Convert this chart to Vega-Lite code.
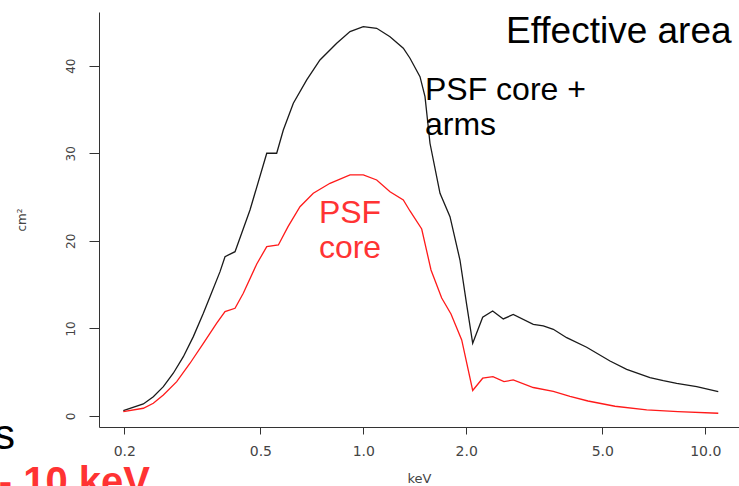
{
  "$schema": "https://vega.github.io/schema/vega-lite/v6.json",
  "width": 640,
  "height": 415,
  "autosize": {"type": "none"},
  "padding": {"left": 99, "top": 12, "right": 0, "bottom": 59},
  "background": "white",
  "config": {"view": {"stroke": null}, "font": "Liberation Sans"},
  "datasets": {
    "curves": [
      {"series": "PSF core + arms", "keV": 0.1987, "area": 0.61},
      {"series": "PSF core + arms", "keV": 0.2274, "area": 1.37},
      {"series": "PSF core + arms", "keV": 0.2432, "area": 2.2},
      {"series": "PSF core + arms", "keV": 0.2602, "area": 3.35},
      {"series": "PSF core + arms", "keV": 0.2782, "area": 4.88},
      {"series": "PSF core + arms", "keV": 0.2977, "area": 6.77},
      {"series": "PSF core + arms", "keV": 0.3184, "area": 9.06},
      {"series": "PSF core + arms", "keV": 0.3406, "area": 11.73},
      {"series": "PSF core + arms", "keV": 0.3562, "area": 13.62},
      {"series": "PSF core + arms", "keV": 0.3811, "area": 16.48},
      {"series": "PSF core + arms", "keV": 0.3941, "area": 18.19},
      {"series": "PSF core + arms", "keV": 0.4216, "area": 18.76},
      {"series": "PSF core + arms", "keV": 0.4663, "area": 23.52},
      {"series": "PSF core + arms", "keV": 0.522, "area": 30.0},
      {"series": "PSF core + arms", "keV": 0.5581, "area": 30.0},
      {"series": "PSF core + arms", "keV": 0.5836, "area": 32.66},
      {"series": "PSF core + arms", "keV": 0.6243, "area": 35.71},
      {"series": "PSF core + arms", "keV": 0.6832, "area": 38.37},
      {"series": "PSF core + arms", "keV": 0.7469, "area": 40.65},
      {"series": "PSF core + arms", "keV": 0.836, "area": 42.56},
      {"series": "PSF core + arms", "keV": 0.9144, "area": 43.89},
      {"series": "PSF core + arms", "keV": 1.0, "area": 44.46},
      {"series": "PSF core + arms", "keV": 1.0944, "area": 44.27},
      {"series": "PSF core + arms", "keV": 1.197, "area": 43.31},
      {"series": "PSF core + arms", "keV": 1.3092, "area": 41.99},
      {"series": "PSF core + arms", "keV": 1.3694, "area": 40.85},
      {"series": "PSF core + arms", "keV": 1.4648, "area": 38.75},
      {"series": "PSF core + arms", "keV": 1.5151, "area": 36.46},
      {"series": "PSF core + arms", "keV": 1.5668, "area": 31.14},
      {"series": "PSF core + arms", "keV": 1.6762, "area": 25.43},
      {"series": "PSF core + arms", "keV": 1.7927, "area": 22.76},
      {"series": "PSF core + arms", "keV": 1.9173, "area": 17.81},
      {"series": "PSF core + arms", "keV": 2.0063, "area": 12.68},
      {"series": "PSF core + arms", "keV": 2.0889, "area": 8.3},
      {"series": "PSF core + arms", "keV": 2.2342, "area": 11.27},
      {"series": "PSF core + arms", "keV": 2.3893, "area": 11.99},
      {"series": "PSF core + arms", "keV": 2.5665, "area": 11.08},
      {"series": "PSF core + arms", "keV": 2.7446, "area": 11.59},
      {"series": "PSF core + arms", "keV": 3.1406, "area": 10.45},
      {"series": "PSF core + arms", "keV": 3.3599, "area": 10.28},
      {"series": "PSF core + arms", "keV": 3.5945, "area": 9.9},
      {"series": "PSF core + arms", "keV": 3.9331, "area": 8.94},
      {"series": "PSF core + arms", "keV": 4.4997, "area": 7.85},
      {"series": "PSF core + arms", "keV": 5.2651, "area": 6.28},
      {"series": "PSF core + arms", "keV": 5.8911, "area": 5.33},
      {"series": "PSF core + arms", "keV": 6.8912, "area": 4.37},
      {"series": "PSF core + arms", "keV": 7.5388, "area": 4.03},
      {"series": "PSF core + arms", "keV": 8.2491, "area": 3.73},
      {"series": "PSF core + arms", "keV": 9.4387, "area": 3.35},
      {"series": "PSF core + arms", "keV": 10.915, "area": 2.77},
      {"series": "PSF core", "keV": 0.1987, "area": 0.49},
      {"series": "PSF core", "keV": 0.2274, "area": 0.88},
      {"series": "PSF core", "keV": 0.2432, "area": 1.45},
      {"series": "PSF core", "keV": 0.2602, "area": 2.4},
      {"series": "PSF core", "keV": 0.2847, "area": 3.92},
      {"series": "PSF core", "keV": 0.3114, "area": 6.02},
      {"series": "PSF core", "keV": 0.3406, "area": 8.3},
      {"series": "PSF core", "keV": 0.3727, "area": 10.59},
      {"series": "PSF core", "keV": 0.3941, "area": 11.91},
      {"series": "PSF core", "keV": 0.4216, "area": 12.3},
      {"series": "PSF core", "keV": 0.4457, "area": 14.01},
      {"series": "PSF core", "keV": 0.488, "area": 17.36},
      {"series": "PSF core", "keV": 0.522, "area": 19.33},
      {"series": "PSF core", "keV": 0.5645, "area": 19.53},
      {"series": "PSF core", "keV": 0.6024, "area": 21.62},
      {"series": "PSF core", "keV": 0.6529, "area": 23.9},
      {"series": "PSF core", "keV": 0.7141, "area": 25.43},
      {"series": "PSF core", "keV": 0.7991, "area": 26.57},
      {"series": "PSF core", "keV": 0.9144, "area": 27.52},
      {"series": "PSF core", "keV": 1.0, "area": 27.52},
      {"series": "PSF core", "keV": 1.0944, "area": 26.95},
      {"series": "PSF core", "keV": 1.197, "area": 25.61},
      {"series": "PSF core", "keV": 1.3092, "area": 24.67},
      {"series": "PSF core", "keV": 1.3694, "area": 23.41},
      {"series": "PSF core", "keV": 1.4818, "area": 21.35},
      {"series": "PSF core", "keV": 1.5776, "area": 16.67},
      {"series": "PSF core", "keV": 1.6952, "area": 13.47},
      {"series": "PSF core", "keV": 1.8048, "area": 11.65},
      {"series": "PSF core", "keV": 1.9398, "area": 8.68},
      {"series": "PSF core", "keV": 2.0889, "area": 2.91},
      {"series": "PSF core", "keV": 2.2342, "area": 4.31},
      {"series": "PSF core", "keV": 2.3939, "area": 4.49},
      {"series": "PSF core", "keV": 2.5786, "area": 3.92},
      {"series": "PSF core", "keV": 2.7446, "area": 4.11},
      {"series": "PSF core", "keV": 3.1406, "area": 3.25},
      {"series": "PSF core", "keV": 3.5945, "area": 2.8},
      {"series": "PSF core", "keV": 4.0217, "area": 2.25},
      {"series": "PSF core", "keV": 4.5394, "area": 1.71},
      {"series": "PSF core", "keV": 5.4451, "area": 1.11},
      {"series": "PSF core", "keV": 6.7405, "area": 0.69},
      {"series": "PSF core", "keV": 8.3213, "area": 0.49},
      {"series": "PSF core", "keV": 10.915, "area": 0.31}
    ]
  },
  "layer": [
    {
      "data": {"name": "curves"},
      "mark": {"type": "line", "strokeWidth": 1.3, "clip": true},
      "encoding": {
        "x": {
          "field": "keV",
          "type": "quantitative",
          "scale": {"type": "log", "domain": [0.1687, 12.55], "nice": false},
          "axis": {
            "title": "keV",
            "values": [0.2, 0.5, 1, 2, 5, 10],
            "format": ".1f",
            "grid": false,
            "tickSize": 7,
            "tickColor": "#333",
            "domainColor": "#333",
            "labelFont": "DejaVu Sans",
            "labelFontSize": 14,
            "labelColor": "#444",
            "labelPadding": 10,
            "titleFont": "DejaVu Sans",
            "titleFontSize": 13,
            "titleFontWeight": "normal",
            "titleColor": "#444",
            "titlePadding": 14
          }
        },
        "y": {
          "field": "area",
          "type": "quantitative",
          "scale": {"domain": [-1.26, 46.13], "nice": false, "zero": false},
          "axis": {
            "title": "cm²",
            "values": [0, 10, 20, 30, 40],
            "grid": false,
            "tickSize": 10,
            "tickColor": "#333",
            "domainColor": "#333",
            "labelAngle": -90,
            "labelAlign": "center",
            "labelBaseline": "bottom",
            "labelFont": "DejaVu Sans",
            "labelFontSize": 12,
            "labelColor": "#444",
            "labelPadding": 12,
            "titleFont": "DejaVu Sans",
            "titleFontSize": 12,
            "titleFontWeight": "normal",
            "titleColor": "#444",
            "titlePadding": 36
          }
        },
        "color": {
          "field": "series",
          "type": "nominal",
          "scale": {"domain": ["PSF core + arms", "PSF core"], "range": ["#1a1a1a", "#ff1a1a"]},
          "legend": null
        }
      }
    },
    {
      "mark": {"type": "rule", "color": "#333", "strokeWidth": 1},
      "encoding": {"y": {"datum": 46.13}}
    },
    {
      "data": {"values": [{"keV": 2.614, "area": 42.6, "label": "Effective area"}]},
      "mark": {"type": "text", "align": "left", "baseline": "alphabetic", "fontSize": 37, "font": "Liberation Sans", "color": "#000"},
      "encoding": {
        "x": {"field": "keV", "type": "quantitative"},
        "y": {"field": "area", "type": "quantitative"},
        "text": {"field": "label"}
      }
    },
    {
      "data": {"values": [{"keV": 1.515, "area": 36.09, "label": ["PSF core +", "arms"]}]},
      "mark": {"type": "text", "align": "left", "baseline": "alphabetic", "fontSize": 32, "lineHeight": 35, "font": "Liberation Sans", "color": "#000"},
      "encoding": {
        "x": {"field": "keV", "type": "quantitative"},
        "y": {"field": "area", "type": "quantitative"},
        "text": {"field": "label"}
      }
    },
    {
      "data": {"values": [{"keV": 0.9144, "area": 22.07, "label": ["PSF", "core"]}]},
      "mark": {"type": "text", "align": "center", "baseline": "alphabetic", "fontSize": 32, "lineHeight": 35, "font": "Liberation Sans", "color": "#ff3333"},
      "encoding": {
        "x": {"field": "keV", "type": "quantitative"},
        "y": {"field": "area", "type": "quantitative"},
        "text": {"field": "label"}
      }
    },
    {
      "data": {"values": [{"keV": 0.0958, "area": -3.77, "label": "s"}]},
      "mark": {"type": "text", "align": "right", "baseline": "alphabetic", "fontSize": 42, "font": "Liberation Sans", "color": "#000"},
      "encoding": {
        "x": {"field": "keV", "type": "quantitative"},
        "y": {"field": "area", "type": "quantitative"},
        "text": {"field": "label"}
      }
    },
    {
      "data": {"values": [{"keV": 0.2378, "area": -9.02, "label": "- 10 keV"}]},
      "mark": {"type": "text", "align": "right", "baseline": "alphabetic", "fontSize": 40, "fontWeight": "bold", "font": "Liberation Sans", "color": "#ff3333"},
      "encoding": {
        "x": {"field": "keV", "type": "quantitative"},
        "y": {"field": "area", "type": "quantitative"},
        "text": {"field": "label"}
      }
    }
  ]
}
